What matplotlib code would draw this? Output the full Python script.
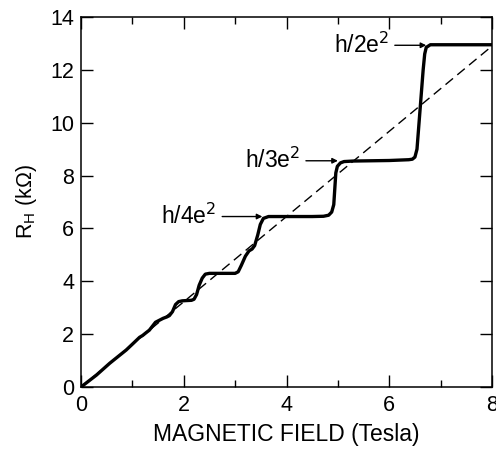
import matplotlib
matplotlib.use("Agg")
import matplotlib.pyplot as plt
from matplotlib.ticker import MultipleLocator

plt.rcParams['font.family'] = ['Liberation Sans', 'DejaVu Sans']

# Measured Hall resistance curve (B in Tesla, R_H in kOhm)
field_T = [0.0, 0.3, 0.56, 0.88, 1.0, 1.14, 1.2, 1.27, 1.33, 1.39, 1.45, 1.52, 1.6,
           1.67, 1.72, 1.78, 1.84, 1.9, 1.97, 2.05, 2.15, 2.2, 2.25, 2.3, 2.36, 2.42,
           2.5, 2.7, 2.9, 3.0, 3.06, 3.12, 3.2, 3.27, 3.33, 3.38, 3.44, 3.49, 3.55,
           3.65, 4.0, 4.5, 4.72, 4.82, 4.88, 4.92, 4.94, 4.96, 4.99, 5.05, 5.12, 5.3,
           6.0, 6.38, 6.45, 6.5, 6.54, 6.6, 6.66, 6.69, 6.72, 6.8, 7.2, 8.0]
hall_kohm = [0.0, 0.45, 0.9, 1.4, 1.62, 1.88, 1.95, 2.06, 2.15, 2.3, 2.45, 2.52, 2.6,
             2.65, 2.7, 2.85, 3.12, 3.23, 3.26, 3.27, 3.28, 3.32, 3.5, 3.85, 4.12, 4.27,
             4.3, 4.3, 4.3, 4.3, 4.36, 4.6, 4.95, 5.15, 5.22, 5.35, 5.75, 6.15, 6.38,
             6.45, 6.45, 6.45, 6.46, 6.5, 6.62, 6.9, 7.5, 8.1, 8.35, 8.48, 8.53, 8.55,
             8.57, 8.6, 8.62, 8.7, 9.0, 10.5, 12.0, 12.6, 12.85, 12.95, 12.95, 12.95]

# Classical (linear) Hall line
classical_T = [0.0, 8.0]
classical_kohm = [0.0, 12.9]

# Plateau labels
labels = ["h/2e$^2$", "h/3e$^2$", "h/4e$^2$"]
tip_B = [6.72, 5.0, 3.53]
tip_R = [12.93, 8.56, 6.45]
text_B = [6.0, 4.27, 2.64]

x_ticks = [0, 2, 4, 6, 8]
y_ticks = [0, 2, 4, 6, 8, 10, 12, 14]

fig = plt.figure(figsize=(4.96, 4.5), dpi=100)
ax = fig.add_axes([81/496, 1 - 387/450, (492-81)/496, (387-17)/450])

ax.plot(field_T, hall_kohm, color='black', lw=2.4, solid_joinstyle='round',
        solid_capstyle='round')
ax.plot(classical_T, classical_kohm, color='black', lw=1.0, dashes=(7, 4))

for lab, bx, ry, tx in zip(labels, tip_B, tip_R, text_B):
    ax.annotate(lab, xy=(bx, ry), xytext=(tx, ry), ha='right', va='center',
                fontsize=16.5,
                arrowprops=dict(arrowstyle='-|>', color='black', lw=1.0,
                                mutation_scale=8, shrinkA=2, shrinkB=0))

ax.set_xlim(0, 8)
ax.set_ylim(0, 14)
ax.set_xticks(x_ticks)
ax.set_yticks(y_ticks)
ax.xaxis.set_minor_locator(MultipleLocator(1))
ax.tick_params(axis='both', which='major', direction='in', length=8.5, width=1,
               labelsize=15.5, top=True, right=True)
ax.tick_params(axis='x', which='minor', direction='in', length=5, width=1, top=True)
ax.tick_params(axis='x', which='major', pad=6)
ax.tick_params(axis='y', which='major', pad=5)
for s in ax.spines.values():
    s.set_linewidth(1.1)

ax.set_xlabel('MAGNETIC FIELD (Tesla)', fontsize=16.5, labelpad=5)
ax.set_ylabel('R$_\\mathregular{H}$ (kΩ)', fontsize=15.5, labelpad=8)

fig.savefig('out.png', dpi=100)
